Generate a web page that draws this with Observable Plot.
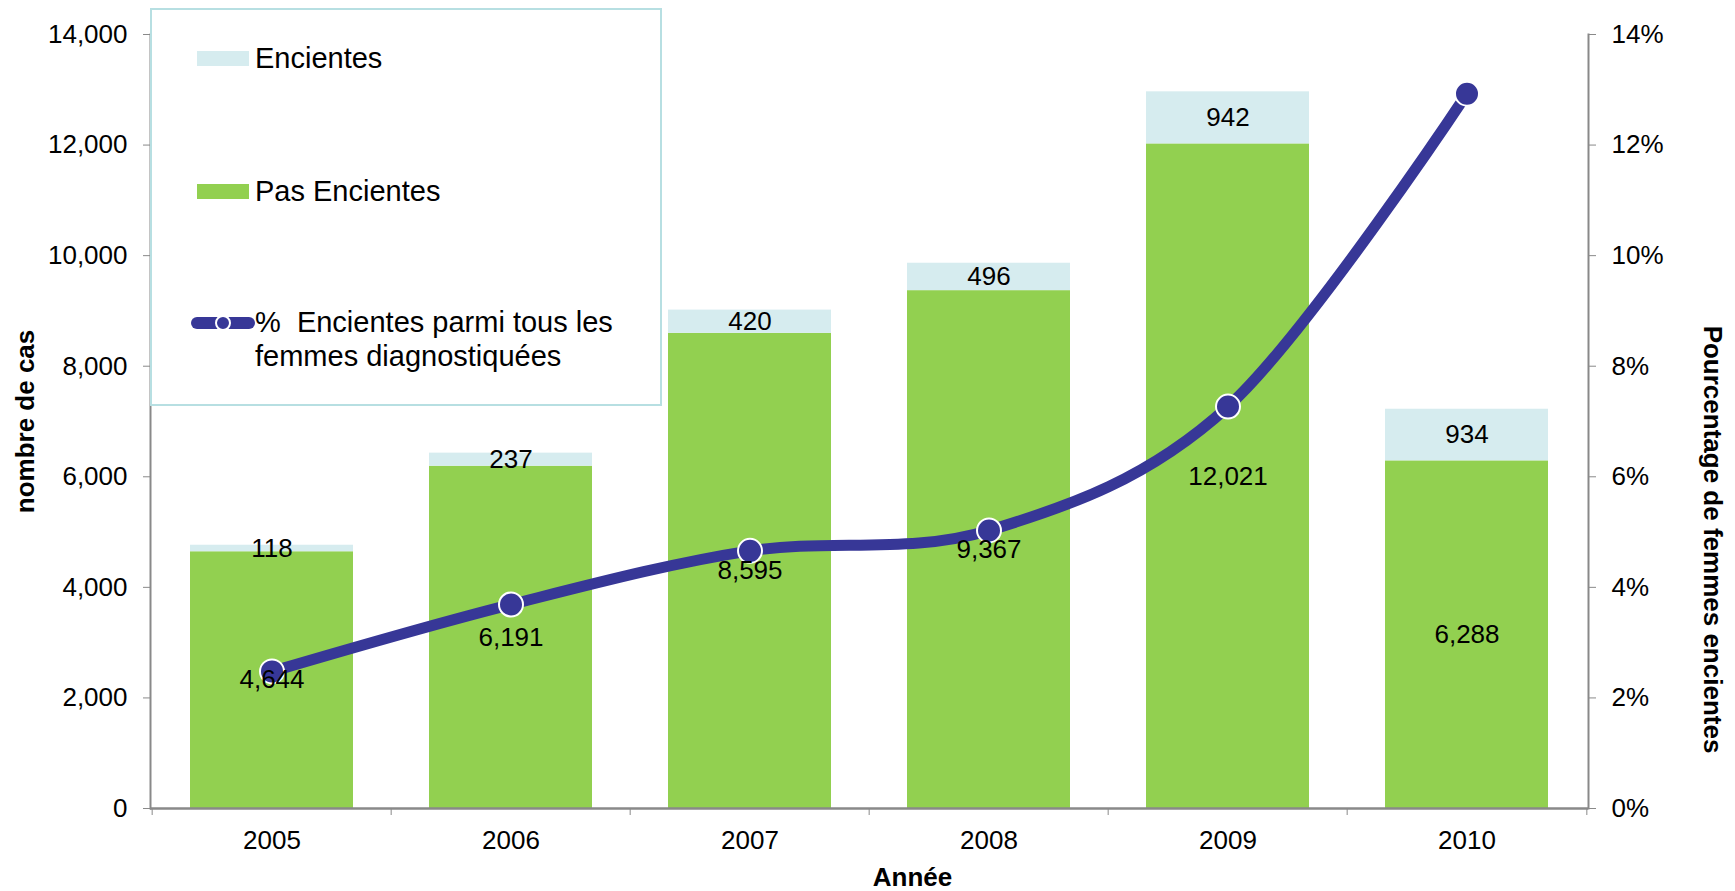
<!DOCTYPE html>
<html>
<head>
<meta charset="utf-8">
<script src="https://cdn.jsdelivr.net/npm/d3@7"></script>
<script src="https://cdn.jsdelivr.net/npm/@observablehq/plot@0.6"></script>
<style>
  body { margin: 0; background: #fff; font-family: "Liberation Sans", Arial, sans-serif; }
  #wrap { position: relative; width: 1735px; height: 891px; overflow: hidden; }
  #legend { position: absolute; left: 150px; top: 8px; width: 512px; height: 398px; box-sizing: border-box; border: 2.5px solid #b7dfe2; background: #fff; }
  .lg { position: absolute; font-size: 29px; color: #000; white-space: pre; line-height: 29px; }
  .sw { position: absolute; width: 52px; height: 15px; }
</style>
</head>
<body>
<div id="wrap"></div>
<script>
// ---- data ----
const years = ["2005", "2006", "2007", "2008", "2009", "2010"];
const pasEncientes = [4644, 6191, 8595, 9367, 12021, 6288];
const encientes = [118, 237, 420, 496, 942, 934];
const pctEncientes = [2.48, 3.69, 4.66, 5.03, 7.27, 12.93];   // % Encientes parmi tous les femmes diagnostiquées
const leftTicks = [0, 2000, 4000, 6000, 8000, 10000, 12000, 14000];
const rightTicks = [0, 2, 4, 6, 8, 10, 12, 14];
const seriesNames = ["Pas Encientes", "Encientes"];
const seriesColors = ["#92d050", "#d6ecef"];
const lineColor = "#373797";
const axisColor = "#898989";

// ---- layout ----
const W = 1735, H = 891;
const mL = 150, mR = 147, mT = 34, mB = 83;
const step = (W - mL - mR) / years.length;
const k = leftTicks[leftTicks.length - 1] / rightTicks[rightTicks.length - 1]; // secondary-axis ratio

const rows = [];
years.forEach((y, i) => {
  rows.push({year: y, series: seriesNames[0], value: pasEncientes[i]});
  rows.push({year: y, series: seriesNames[1], value: encientes[i]});
});
const lineRows = years.map((y, i) => ({year: y, pct: pctEncientes[i]}));
const fmt = d3.format(",");

const plot = Plot.plot({
  width: W, height: H,
  marginLeft: mL, marginRight: mR, marginTop: mT, marginBottom: mB,
  style: {fontFamily: "'Liberation Sans', Arial, sans-serif", fontSize: "26px", color: "#000", background: "transparent"},
  x: {domain: years, paddingInner: 0.32, paddingOuter: 0.16, axis: null},
  y: {domain: [0, 14000], axis: null},
  color: {domain: seriesNames, range: seriesColors},
  marks: [
    Plot.barY(rows, {x: "year", y: "value", fill: "series"}),
    Plot.frame({anchor: "left", stroke: axisColor, strokeWidth: 2}),
    Plot.frame({anchor: "right", stroke: axisColor, strokeWidth: 2}),
    Plot.ruleY([0], {stroke: axisColor, strokeWidth: 2.5}),
    Plot.axisY({ticks: leftTicks, tickSize: 7, tickPadding: 16, tickFormat: fmt, stroke: axisColor, label: null, fontSize: 26}),
    Plot.axisY({anchor: "right", ticks: rightTicks.map(p => p * k), tickSize: 7, tickPadding: 16,
      tickFormat: v => `${Math.round(v / k)}%`, stroke: axisColor, label: null, fontSize: 26}),
    Plot.axisX({ticks: years, tickSize: 7, tickFormat: () => "", dx: -step / 2, stroke: axisColor, label: null}),
    Plot.axisX({ticks: years.slice(-1), tickSize: 7, tickFormat: () => "", dx: step / 2, stroke: axisColor, label: null}),
    Plot.axisX({ticks: years, tickSize: 0, tickPadding: 22, label: null, fontSize: 26}),
    Plot.line(lineRows, {x: "year", y: d => d.pct * k, stroke: lineColor, strokeWidth: 11,
      curve: d3.curveCardinal.tension(0)}),
    Plot.dot(lineRows, {x: "year", y: d => d.pct * k, r: 12, fill: lineColor, stroke: "white", strokeWidth: 2}),
    Plot.text(rows, Plot.stackY({x: "year", y: "value", z: "series", text: d => fmt(d.value), fill: "#000", fontSize: 26})),
    Plot.text(["nombre de cas"], {frameAnchor: "left", textAnchor: "middle", lineAnchor: "middle", rotate: -90, dx: -125, fontWeight: "bold", fontSize: 26}),
    Plot.text(["Pourcentage de femmes encientes"], {frameAnchor: "right", textAnchor: "middle", lineAnchor: "middle", rotate: 90, dx: 124, dy: 118, fontWeight: "bold", fontSize: 26}),
    Plot.text(["Année"], {frameAnchor: "bottom", textAnchor: "middle", lineAnchor: "middle", dx: 43, dy: 69, fontWeight: "bold", fontSize: 26})
  ]
});

const wrap = document.getElementById("wrap");
plot.style.position = "absolute";
plot.style.left = "0px";
plot.style.top = "0px";
wrap.appendChild(plot);

// ---- legend (HTML, on top of the plot area) ----
const legend = document.createElement("div");
legend.id = "legend";
wrap.appendChild(legend);

function addSwatch(color, left, top) {
  const s = document.createElement("div");
  s.className = "sw";
  s.style.left = left + "px";
  s.style.top = top + "px";
  s.style.background = color;
  wrap.appendChild(s);
}
function addText(html, left, top, lh) {
  const t = document.createElement("div");
  t.className = "lg";
  t.style.left = left + "px";
  t.style.top = top + "px";
  if (lh) t.style.lineHeight = lh + "px";
  t.innerHTML = html;
  wrap.appendChild(t);
}
addSwatch(seriesColors[1], 197, 51);
addText(seriesNames[1], 255, 44);
addSwatch(seriesColors[0], 197, 184);
addText(seriesNames[0], 255, 177);

const ns = "http://www.w3.org/2000/svg";
const ls = document.createElementNS(ns, "svg");
ls.setAttribute("width", 80);
ls.setAttribute("height", 30);
ls.style.position = "absolute";
ls.style.left = "183px";
ls.style.top = "308px";
const ln = document.createElementNS(ns, "line");
ln.setAttribute("x1", 14); ln.setAttribute("x2", 66);
ln.setAttribute("y1", 15); ln.setAttribute("y2", 15);
ln.setAttribute("stroke", lineColor); ln.setAttribute("stroke-width", 12); ln.setAttribute("stroke-linecap", "round");
ls.appendChild(ln);
const cc = document.createElementNS(ns, "circle");
cc.setAttribute("cx", 40); cc.setAttribute("cy", 15); cc.setAttribute("r", 7);
cc.setAttribute("fill", lineColor); cc.setAttribute("stroke", "white"); cc.setAttribute("stroke-width", 2);
ls.appendChild(cc);
wrap.appendChild(ls);
addText("%  Encientes parmi tous les<br>femmes diagnostiquées", 255, 305, 34.4);
</script>
</body>
</html>
